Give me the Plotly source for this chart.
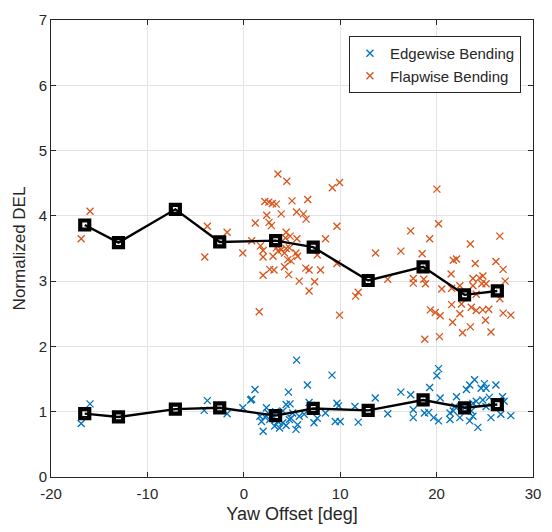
import plotly.graph_objects as go

# Bin-averaged normalized DEL (black trend lines)
mean_yaw = [-16.5, -13.0, -7.1, -2.5, 3.3, 7.2, 12.9, 18.6, 22.9, 26.3]
mean_flap = [3.86, 3.59, 4.10, 3.60, 3.62, 3.52, 3.01, 3.22, 2.79, 2.85]
mean_edge = [0.97, 0.92, 1.04, 1.06, 0.94, 1.05, 1.02, 1.18, 1.06, 1.11]

# Individual flapwise samples
flap_yaw = [
    -16.87, -15.95, -3.78, -1.73, -4.05, -0.10,
    3.54, 4.46, 9.93, 9.18, 2.18, 2.59, 2.96, 3.37, 5.00, 6.63,
    2.38, 3.88, 5.48, 6.19, 6.46, 1.19, 2.62, 2.86, 9.66, 4.39,
    4.80, 4.32, 5.51, 8.47, 0.82, 1.73, 2.00, 3.37, 3.88, 4.39,
    4.73, 2.00, 3.03, 3.54, 4.22, 5.41, 5.58, 4.56, 4.90, 7.62,
    9.66, 4.22, 2.69, 3.13, 6.43, 6.77, 7.96, 2.00, 4.66, 5.75,
    7.35, 6.77, 11.60, 11.87, 13.67, 14.93, 1.60, 9.93,
    20.03, 20.20, 17.31, 19.28, 26.56, 23.50, 16.29, 18.50, 21.73, 22.07,
    24.01, 26.15, 26.90, 17.58, 17.58, 18.67, 18.84, 21.50, 23.77, 24.45,
    24.80, 24.69, 25.13, 27.11, 20.54, 21.56, 22.41, 23.77, 24.11, 26.56,
    19.35, 19.86, 20.37, 21.56, 22.58, 23.60, 24.11, 24.79, 25.41, 22.41,
    26.90, 27.70, 21.66, 25.07, 23.50, 22.69, 25.64, 18.77, 20.30,
]
flap_del = [
    3.65, 4.07, 3.84, 3.75, 3.37, 3.43,
    4.64, 4.53, 4.51, 4.43, 4.22, 4.21, 4.19, 4.18, 4.23, 4.25,
    4.01, 4.03, 4.06, 4.03, 3.95, 3.89, 3.90, 3.85, 3.84, 3.75,
    3.69, 3.66, 3.65, 3.65, 3.62, 3.54, 3.47, 3.51, 3.48, 3.50,
    3.51, 3.37, 3.38, 3.46, 3.43, 3.43, 3.38, 3.33, 3.31, 3.40,
    3.27, 3.22, 3.18, 3.17, 3.20, 3.17, 3.17, 3.09, 3.10, 3.00,
    2.99, 2.85, 2.77, 2.83, 3.43, 3.03, 2.53, 2.48,
    4.41, 3.88, 3.77, 3.65, 3.69, 3.57, 3.46, 3.42, 3.32, 3.34,
    3.27, 3.30, 3.18, 3.04, 2.97, 3.03, 2.96, 3.11, 3.04, 3.05,
    3.08, 2.96, 2.96, 3.00, 2.88, 2.89, 2.93, 2.93, 2.80, 2.73,
    2.56, 2.52, 2.47, 2.64, 2.65, 2.60, 2.55, 2.56, 2.57, 2.50,
    2.51, 2.48, 2.37, 2.40, 2.30, 2.21, 2.22, 2.11, 2.15,
]

# Individual edgewise samples
edge_yaw = [
    -16.87, -15.95, -3.78, -4.11, -1.73, -0.10, 0.71, 1.16, 2.01,
    5.48, 9.15, 0.82, 4.63, 6.60, 2.35, 4.39, 4.80, 6.77, 9.66,
    9.83, 11.53, 13.64, 14.93, 8.47, 7.62, 7.28, 9.49, 10.00, 11.87,
    1.67, 1.84, 2.69, 3.20, 3.71, 4.39, 5.41, 5.58, 5.75, 5.07,
    4.05, 2.52, 3.03, 4.73, 6.26, 3.54, 4.05, 2.20, 3.30, 4.90,
    20.20, 20.03, 19.28, 16.29, 17.31, 20.37, 17.58, 17.58, 18.74, 19.18,
    19.69, 20.20, 21.39, 21.73, 22.07, 21.39, 22.41, 23.09, 23.43, 23.94,
    23.77, 24.11, 23.60, 23.77, 23.43, 24.28, 24.62, 24.96, 25.13, 25.47,
    24.79, 25.13, 25.64, 26.15, 26.84, 27.01, 26.66, 27.70, 22.92, 21.90,
]
edge_del = [
    0.82, 1.12, 1.17, 1.02, 0.97, 1.06, 1.18, 1.34, 0.70,
    1.79, 1.56, 1.19, 1.30, 1.41, 1.06, 1.11, 1.12, 1.14, 1.13,
    1.09, 1.08, 1.21, 0.97, 0.98, 0.90, 0.83, 0.85, 0.85, 0.84,
    0.93, 0.85, 0.88, 0.78, 0.75, 0.79, 0.73, 0.80, 0.93, 0.98,
    1.01, 0.98, 0.93, 0.88, 0.96, 0.85, 0.83, 0.92, 1.00, 0.90,
    1.66, 1.55, 1.37, 1.30, 1.26, 1.21, 1.03, 0.91, 0.98, 0.99,
    0.91, 0.86, 0.98, 1.01, 1.23, 0.88, 0.91, 1.34, 1.41, 1.49,
    1.13, 1.16, 1.01, 0.93, 0.86, 0.76, 1.36, 1.43, 1.36, 1.22,
    1.18, 1.08, 0.91, 1.41, 1.23, 1.16, 0.96, 0.94, 1.06, 1.08,
]

# Axis ticks and their labels (plain hyphen for negatives)
x_ticks = [-20, -10, 0, 10, 20, 30]
x_tick_labels = ["-20", "-10", "0", "10", "20", "30"]
y_ticks = [0, 1, 2, 3, 4, 5, 6, 7]

BLUE = "#0072BD"
ORANGE = "#D95319"
INK = "#262626"
FONT = "Liberation Sans, Arial, sans-serif"

fig = go.Figure()

for xs, ys, name, col in ((edge_yaw, edge_del, "Edgewise Bending", BLUE),
                          (flap_yaw, flap_del, "Flapwise Bending", ORANGE)):
    fig.add_trace(go.Scatter(
        x=xs, y=ys, mode="markers", name=name,
        marker=dict(symbol="x-thin-open", size=7, color=col,
                    line=dict(color=col, width=1.3)),
    ))

for yv in (mean_flap, mean_edge):
    fig.add_trace(go.Scatter(
        x=mean_yaw, y=yv, mode="lines+markers", showlegend=False,
        line=dict(color="black", width=2.4),
        marker=dict(symbol="square-open", size=9, color="black",
                    line=dict(color="black", width=4.2)),
    ))

axis_common = dict(
    showline=True, linecolor=INK, linewidth=1, mirror="ticks",
    ticks="inside", ticklen=5, tickcolor=INK,
    showgrid=True, gridcolor="#e3e3e3", gridwidth=1, zeroline=False,
    tickfont=dict(family=FONT, size=15, color=INK),
)

fig.update_layout(
    width=552, height=532,
    margin=dict(l=51, r=11, t=17, b=54),
    paper_bgcolor="white", plot_bgcolor="white",
    font=dict(family=FONT, color=INK),
    xaxis=dict(range=[-20, 30], tickvals=x_ticks, ticktext=x_tick_labels,
               ticklabelstandoff=3,
               title=dict(text="Yaw Offset [deg]", font=dict(size=18), standoff=6),
               **axis_common),
    yaxis=dict(range=[0, 7], tickvals=y_ticks,
               title=dict(text="Normalized DEL", font=dict(size=17), standoff=8),
               **axis_common),
    legend=dict(x=0.975, y=0.965, xanchor="right", yanchor="top",
                bgcolor="white", bordercolor=INK, borderwidth=1,
                font=dict(family=FONT, size=15, color=INK),
                itemwidth=30, tracegroupgap=0),
)

fig.write_html("out.html")
